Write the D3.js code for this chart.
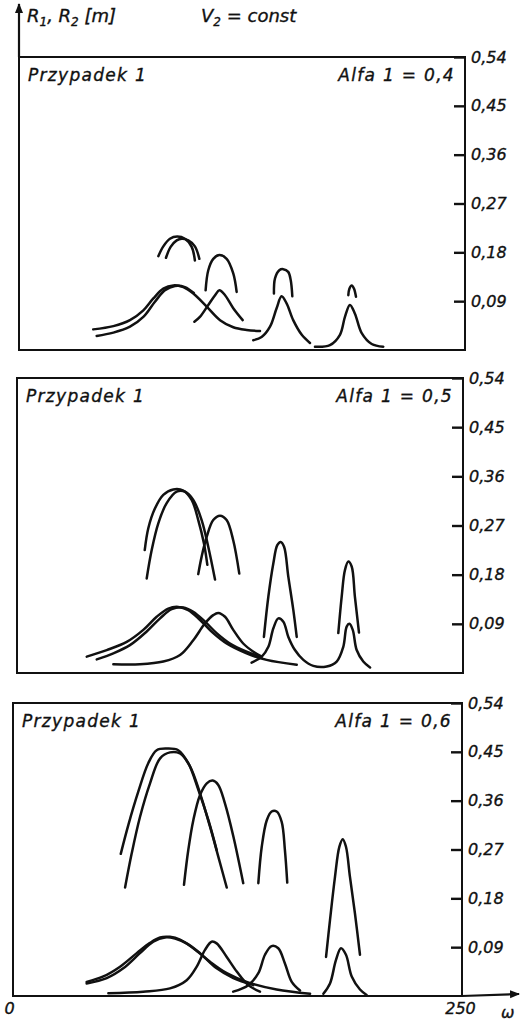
<!DOCTYPE html>
<html>
<head>
<meta charset="utf-8">
<script src="https://cdn.jsdelivr.net/npm/d3@7"></script>
<style>
  body { margin: 0; background: #fff; }
  svg text { font-family: "DejaVu Sans", "Liberation Sans", sans-serif; font-style: italic; fill: #111; stroke: #111; stroke-width: 0.35px; }
</style>
</head>
<body>
<svg id="drawing_region"></svg>
<script>
// tick values and labels (right axis, every panel)
const yTicks = [0.09, 0.18, 0.27, 0.36, 0.45, 0.54];
const yTickLabels = ["0,09", "0,18", "0,27", "0,36", "0,45", "0,54"];
const xTicks = [0, 250];
const xTickLabels = ["0", "250"];
const caseLabels = ["Przypadek 1", "Przypadek 1", "Przypadek 1"];
const alfaLabels = ["Alfa 1 = 0,4", "Alfa 1 = 0,5", "Alfa 1 = 0,6"];

// Alfa 1 = 0,4 : curves as [omega, R]
const lower04 = [
  [[41.6,0.038],[52.9,0.044],[62.2,0.055],[69.7,0.073],[75.3,0.095],[80.9,0.113],[86.5,0.119],[92.1,0.116],[97.7,0.104],[105.2,0.080],[112.7,0.055],[120.1,0.042],[127.6,0.037],[135.1,0.035]],
  [[43.5,0.026],[52.9,0.032],[62.2,0.043],[69.7,0.061],[76.2,0.089],[81.8,0.110],[87.4,0.118],[93.0,0.116],[98.0,0.105]],
  [[98.3,0.052],[101.4,0.061],[106.1,0.083],[109.9,0.101],[112.3,0.110],[115.5,0.101],[120.1,0.077],[125.4,0.055]],
  [[131.3,0.018],[136.0,0.024],[140.7,0.043],[144.4,0.077],[147.2,0.099],[150.0,0.086],[153.7,0.055],[158.5,0.028],[163.1,0.013]],
  [[165.9,0.006],[174.3,0.009],[179.9,0.028],[182.7,0.061],[185.5,0.083],[188.3,0.067],[192.1,0.031],[197.7,0.011],[204.2,0.006]]
];
const upper04 = [
  [[78.1,0.173],[80.9,0.191],[84.6,0.205],[88.7,0.209],[93.0,0.205],[96.8,0.190],[98.6,0.165]],
  [[82.4,0.170],[85.0,0.190],[88.4,0.202],[91.2,0.205],[94.9,0.202],[98.6,0.191],[101.1,0.168]],
  [[104.6,0.110],[106.1,0.147],[108.9,0.168],[112.3,0.175],[116.4,0.168],[120.1,0.141],[122.0,0.107]],
  [[142.9,0.104],[143.5,0.132],[145.9,0.147],[148.1,0.149],[150.9,0.144],[152.3,0.129],[153.2,0.099]],
  [[184.6,0.101],[185.2,0.113],[186.5,0.119],[187.8,0.113],[188.9,0.098]]
];

// Alfa 1 = 0,5
const lower05 = [
  [[39.1,0.030],[50.3,0.042],[61.5,0.057],[70.8,0.079],[78.3,0.103],[84.8,0.118],[90.4,0.121],[96.0,0.115],[102.6,0.097],[110.0,0.073],[117.5,0.054],[128.7,0.036],[139.9,0.024],[156.8,0.015]],
  [[44.7,0.025],[54.0,0.036],[63.3,0.051],[72.7,0.076],[80.2,0.100],[86.7,0.117],[93.2,0.120],[98.8,0.112],[105.4,0.094],[111.9,0.073],[119.4,0.054],[128.7,0.039],[136.2,0.030]],
  [[54.0,0.016],[68.9,0.016],[82.0,0.021],[91.4,0.033],[98.8,0.060],[105.4,0.091],[110.0,0.106],[112.8,0.110],[116.6,0.103],[121.2,0.079],[126.8,0.054],[132.5,0.039],[137.2,0.030]],
  [[131.5,0.019],[137.2,0.030],[140.9,0.048],[143.7,0.082],[146.5,0.100],[149.3,0.094],[152.1,0.066],[155.8,0.042],[160.5,0.024],[166.1,0.013],[173.6,0.012],[179.2,0.021],[182.9,0.048],[184.8,0.085],[186.3,0.090],[188.2,0.079],[190.4,0.042],[194.1,0.021],[197.9,0.010]]
];
const upper05 = [
  [[71.6,0.225],[73.6,0.265],[77.3,0.301],[82.0,0.326],[87.6,0.336],[93.2,0.334],[97.9,0.317],[101.6,0.280],[104.8,0.237],[106.7,0.198]],
  [[72.7,0.173],[75.5,0.225],[79.2,0.274],[83.9,0.311],[89.5,0.332],[94.2,0.332],[98.8,0.317],[103.5,0.280],[107.2,0.231],[111.0,0.171]],
  [[101.6,0.181],[103.5,0.213],[106.3,0.249],[110.0,0.280],[113.8,0.288],[117.5,0.280],[121.2,0.243],[124.6,0.182]],
  [[138.4,0.066],[140.9,0.140],[143.7,0.201],[145.9,0.234],[147.8,0.240],[149.7,0.231],[152.1,0.176],[154.9,0.115],[156.8,0.066]],
  [[180.1,0.073],[182.0,0.140],[183.8,0.188],[185.7,0.204],[187.6,0.195],[189.4,0.140],[191.7,0.074]]
];

// Alfa 1 = 0,6
const lower06 = [
  [[41.0,0.026],[50.3,0.036],[59.6,0.054],[68.9,0.079],[76.3,0.098],[81.9,0.108],[87.4,0.109],[93.0,0.104],[100.4,0.088],[109.7,0.063],[119.0,0.042],[130.1,0.026],[146.8,0.012],[165.4,0.004]],
  [[41.0,0.023],[52.2,0.033],[61.4,0.051],[70.7,0.079],[78.1,0.100],[84.6,0.108],[90.2,0.106],[96.7,0.097],[104.1,0.079],[113.4,0.051],[122.7,0.033],[133.8,0.020]],
  [[53.1,0.005],[72.5,0.008],[87.4,0.014],[96.7,0.029],[102.3,0.054],[106.9,0.085],[110.6,0.100],[113.4,0.097],[119.0,0.072],[124.6,0.045],[131.0,0.020],[137.5,0.008]],
  [[122.6,0.008],[131.0,0.020],[136.6,0.042],[140.3,0.076],[144.0,0.092],[147.7,0.088],[151.4,0.060],[155.2,0.026],[159.8,0.010]],
  [[172.8,0.004],[176.5,0.023],[179.8,0.066],[182.6,0.088],[185.4,0.076],[188.6,0.036],[193.2,0.012],[196.9,0.002]]
];
const upper06 = [
  [[60.0,0.262],[64.2,0.315],[69.8,0.377],[75.3,0.429],[80.0,0.453],[85.6,0.456],[92.0,0.453],[97.6,0.429],[103.2,0.380],[108.8,0.324],[113.4,0.269]],
  [[62.4,0.200],[66.1,0.263],[70.7,0.330],[76.3,0.392],[81.9,0.438],[87.4,0.449],[93.0,0.447],[98.6,0.423],[104.1,0.374],[109.7,0.312],[114.3,0.257],[119.0,0.200]],
  [[95.2,0.205],[97.6,0.269],[100.4,0.324],[104.1,0.370],[107.9,0.392],[111.2,0.397],[114.3,0.389],[118.0,0.355],[122.7,0.294],[128.2,0.208]],
  [[136.6,0.208],[138.5,0.275],[141.3,0.324],[144.0,0.340],[146.8,0.340],[149.6,0.321],[151.4,0.269],[152.7,0.209]],
  [[174.3,0.072],[176.5,0.140],[179.3,0.220],[181.7,0.275],[183.6,0.289],[185.4,0.275],[187.6,0.220],[190.4,0.152],[193.2,0.076]]
];

const panelCurves = [
  lower04.concat(upper04),
  lower05.concat(upper05),
  lower06.concat(upper06)
];

// layout of the three frames (pixels)
const frames = [
  { left: 19, right: 465, top: 57, bottom: 350 },
  { left: 17, right: 463, top: 378, bottom: 673 },
  { left: 13, right: 462, top: 703, bottom: 996 }
];

const svg = d3.select("#drawing_region")
  .attr("width", 521)
  .attr("height", 1021);

svg.append("defs").append("marker")
  .attr("id", "arrow")
  .attr("viewBox", "0 0 10 10")
  .attr("refX", 9).attr("refY", 5)
  .attr("markerWidth", 10).attr("markerHeight", 10)
  .attr("markerUnits", "userSpaceOnUse")
  .attr("orient", "auto")
  .append("path")
  .attr("d", "M0,1 L10,5 L0,9 Z")
  .attr("fill", "#111");

frames.forEach((f, i) => {
  const x = d3.scaleLinear().domain([0, 250]).range([f.left, f.right]);
  const y = d3.scaleLinear().domain([0, 0.54]).range([f.bottom, f.top]);
  const g = svg.append("g");

  g.append("rect")
    .attr("x", f.left).attr("y", f.top)
    .attr("width", f.right - f.left).attr("height", f.bottom - f.top)
    .attr("fill", "none").attr("stroke", "#111").attr("stroke-width", 2);

  // right axis: ticks point into the frame
  const axis = g.append("g")
    .attr("transform", "translate(" + f.right + ",0)")
    .call(d3.axisRight(y)
      .tickValues(yTicks)
      .tickSize(-11)
      .tickPadding(6)
      .tickFormat((d, k) => yTickLabels[k]));
  axis.select(".domain").remove();
  axis.selectAll(".tick line").attr("stroke", "#111").attr("stroke-width", 2.4);
  axis.selectAll(".tick text")
    .attr("font-size", 16).attr("fill", "#111")
    .attr("font-family", null);

  g.append("text")
    .attr("x", f.left + 9).attr("y", f.top + 24)
    .attr("font-size", 17)
    .attr("letter-spacing", 1.3)
    .text(caseLabels[i]);
  g.append("text")
    .attr("x", f.right - 10).attr("y", f.top + 24)
    .attr("text-anchor", "end")
    .attr("font-size", 17)
    .attr("letter-spacing", 1.3)
    .text(alfaLabels[i]);

  const line = d3.line()
    .x(d => x(d[0]))
    .y(d => y(d[1]))
    .curve(d3.curveCatmullRom.alpha(0.5));

  g.selectAll(".curve")
    .data(panelCurves[i])
    .join("path")
    .attr("class", "curve")
    .attr("d", line)
    .attr("fill", "none")
    .attr("stroke", "#111")
    .attr("stroke-width", 2.5)
    .attr("stroke-linecap", "round");

  if (i === frames.length - 1) {
    const xa = g.append("g")
      .attr("transform", "translate(0," + f.bottom + ")")
      .call(d3.axisBottom(x)
        .tickValues(xTicks)
        .tickSize(0)
        .tickPadding(7)
        .tickFormat((d, k) => xTickLabels[k]));
    xa.select(".domain").remove();
    xa.selectAll(".tick text")
      .attr("font-size", 16).attr("fill", "#111")
      .attr("font-family", null)
      .attr("dx", (d, k) => k === 0 ? -4 : -2);

    // omega arrow
    g.append("line")
      .attr("x1", f.right).attr("y1", f.bottom)
      .attr("x2", 519).attr("y2", f.bottom - 2)
      .attr("stroke", "#111").attr("stroke-width", 2.2)
      .attr("marker-end", "url(#arrow)");
    g.append("text")
      .attr("x", 501).attr("y", 1018)
      .attr("font-size", 16)
      .text("ω");
  }
  if (i === 0) {
    // R axis arrow
    svg.append("line")
      .attr("x1", f.left).attr("y1", f.top)
      .attr("x2", f.left).attr("y2", 4)
      .attr("stroke", "#111").attr("stroke-width", 2.2)
      .attr("marker-end", "url(#arrow)");
  }
});

// top captions
const cap = svg.append("text").attr("x", 27).attr("y", 22).attr("font-size", 18);
cap.append("tspan").text("R");
cap.append("tspan").attr("font-size", 12).attr("dy", 4).text("1");
cap.append("tspan").attr("dy", -4).text(", R");
cap.append("tspan").attr("font-size", 12).attr("dy", 4).text("2");
cap.append("tspan").attr("dy", -4).text(" [m]");

const cap2 = svg.append("text").attr("x", 201).attr("y", 22).attr("font-size", 18);
cap2.append("tspan").text("V");
cap2.append("tspan").attr("font-size", 12).attr("dy", 4).text("2");
cap2.append("tspan").attr("dy", -4).text(" = const");
</script>
</body>
</html>
